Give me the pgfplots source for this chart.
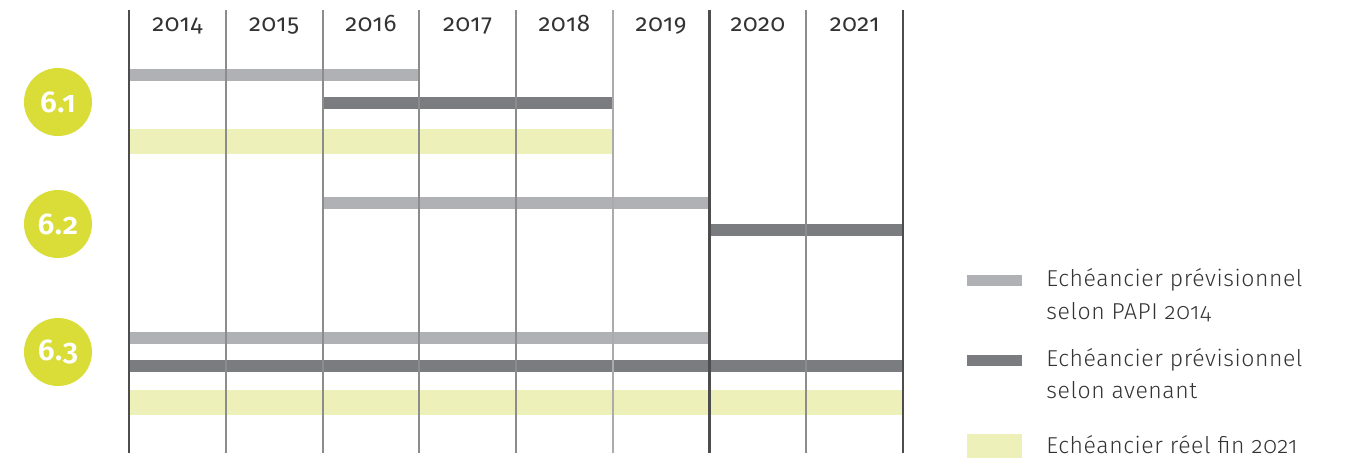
\documentclass[border=0pt]{standalone}
\usepackage{fontspec}
\setmainfont{Fira Sans}[UprightFont=* Light, BoldFont=* SemiBold, Numbers=OldStyle, LetterSpace=2.5]
\newfontfamily\yearfont{Fira Sans}[Numbers=OldStyle, LetterSpace=3]
\newfontfamily\circfont{Fira Sans SemiBold}[Numbers=OldStyle, LetterSpace=2]
\usepackage{pgfplots}
\pgfplotsset{compat=1.18}
\definecolor{lightbar}{HTML}{B0B1B4}
\definecolor{darkbar}{HTML}{7B7C80}
\definecolor{yellowbar}{HTML}{EDF0B8}
\definecolor{circ}{HTML}{DADC38}
\definecolor{gridthin}{HTML}{8C8C8C}
\definecolor{gridlight}{HTML}{ABABAB}
\definecolor{griddark}{HTML}{4D4D4D}
\definecolor{txt}{HTML}{333333}
\begin{document}
\begin{tikzpicture}
\begin{axis}[
  hide axis, scale only axis,
  width=676pt, height=231pt,
  xmin=2012.6667, xmax=2026.6408,
  ymin=0, ymax=462, y dir=reverse,
  clip=false,
]
\path (axis cs:2012.6667,0) rectangle (axis cs:2026.6408,462);
% 6.1
\addplot[draw=lightbar, line width=6pt, line cap=butt] coordinates {(2014,74.5) (2017,74.5)};
\addplot[draw=darkbar, line width=6pt, line cap=butt] coordinates {(2016,102.5) (2019,102.5)};
\addplot[draw=yellowbar, line width=12.5pt, line cap=butt] coordinates {(2014,141) (2019,141)};
% 6.2
\addplot[draw=lightbar, line width=6pt, line cap=butt] coordinates {(2016,202.5) (2020,202.5)};
\addplot[draw=darkbar, line width=6pt, line cap=butt] coordinates {(2020,229.5) (2022,229.5)};
% 6.3
\addplot[draw=lightbar, line width=6pt, line cap=butt] coordinates {(2014,337.5) (2020.01,337.5)};
\addplot[draw=darkbar, line width=6pt, line cap=butt] coordinates {(2014,365.5) (2022,365.5)};
\addplot[draw=yellowbar, line width=12.5pt, line cap=butt] coordinates {(2014,402) (2022,402)};
% grid lines
\pgfplotsinvokeforeach{2015,2016,2017,2018,2021}{
  \draw[gridthin, line width=1pt] (axis cs:#1,10) -- (axis cs:#1,453);
}
\draw[gridlight, line width=1pt] (axis cs:2019,10) -- (axis cs:2019,453);
\pgfplotsinvokeforeach{2014,2020,2022}{
  \draw[griddark, line width=1.4pt] (axis cs:#1,10) -- (axis cs:#1,453);
}
% year labels
\pgfplotsinvokeforeach{2014,2015,2016,2017,2018,2019,2020,2021}{
  \node[anchor=base, font=\yearfont\fontsize{12}{14}\selectfont, text=txt] at (axis cs:#1.5,31) {#1};
}
% circles
\fill[circ] (axis cs:2013.266,102) circle[radius=17pt];
\fill[circ] (axis cs:2013.266,224) circle[radius=17pt];
\fill[circ] (axis cs:2013.266,352) circle[radius=17pt];
\node[text=white, font=\circfont\fontsize{15}{17}\selectfont] at (axis cs:2013.266,102) {6.1};
\node[text=white, font=\circfont\fontsize{15}{17}\selectfont] at (axis cs:2013.266,224) {6.2};
\node[text=white, font=\circfont\fontsize{15}{17}\selectfont] at (axis cs:2013.266,352) {6.3};
% legend
\fill[lightbar] (axis cs:2022.661,275) rectangle (axis cs:2023.230,286);
\fill[darkbar] (axis cs:2022.661,355) rectangle (axis cs:2023.230,366);
\fill[yellowbar] (axis cs:2022.661,434) rectangle (axis cs:2023.230,458);
\node[anchor=base west, text=txt, font=\fontsize{11.5}{13}\selectfont, inner sep=0pt] at (axis cs:2023.478,286) {Echéancier prévisionnel};
\node[anchor=base west, text=txt, font=\fontsize{11.5}{13}\selectfont, inner sep=0pt] at (axis cs:2023.478,319) {selon PAPI 2014};
\node[anchor=base west, text=txt, font=\fontsize{11.5}{13}\selectfont, inner sep=0pt] at (axis cs:2023.478,366) {Echéancier prévisionnel};
\node[anchor=base west, text=txt, font=\fontsize{11.5}{13}\selectfont, inner sep=0pt] at (axis cs:2023.478,398) {selon avenant};
\node[anchor=base west, text=txt, font=\fontsize{11.5}{13}\selectfont, inner sep=0pt] at (axis cs:2023.478,453) {Echéancier réel fin 2021};
\end{axis}
\end{tikzpicture}
\end{document}
